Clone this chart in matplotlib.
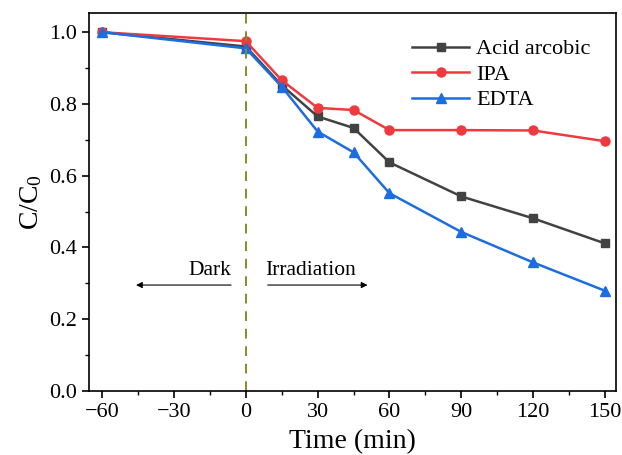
import matplotlib
matplotlib.use("Agg")
import matplotlib.pyplot as plt
from matplotlib.ticker import MultipleLocator

plt.rcParams['font.family'] = ['Liberation Serif', 'DejaVu Serif']
plt.rcParams['mathtext.fontset'] = 'custom'
plt.rcParams['mathtext.rm'] = 'Liberation Serif'
plt.rcParams['mathtext.it'] = 'Liberation Serif:italic'

# data
time = [-60, 0, 15, 30, 45, 60, 90, 120, 150]
acid = [1.0, 0.960, 0.852, 0.765, 0.733, 0.637, 0.542, 0.481, 0.411]
ipa = [1.0, 0.975, 0.866, 0.789, 0.783, 0.727, 0.727, 0.726, 0.696]
edta = [1.0, 0.955, 0.848, 0.723, 0.665, 0.551, 0.443, 0.358, 0.279]

fig = plt.figure(figsize=(6.22, 4.55), dpi=100)
ax = fig.add_axes([0.143, 0.141, 0.847, 0.830])

ax.plot(time, acid, color='#424242', marker='s', ms=6, lw=1.8, label='Acid arcobic')
ax.plot(time, ipa, color='#ee3a3f', marker='o', ms=6.5, lw=1.8, label='IPA')
ax.plot(time, edta, color='#1c6de0', marker='^', ms=7, lw=1.8, label='EDTA')

ax.axvline(0, color='#8a8a2a', ls=(0, (5, 4)), lw=1.4)

# dark / irradiation arrows
ax.annotate('', xy=(-47, 0.295), xytext=(-5, 0.295),
            arrowprops=dict(arrowstyle='-|>', color='black', lw=0.8, mutation_scale=9))
ax.annotate('', xy=(52, 0.295), xytext=(8, 0.295),
            arrowprops=dict(arrowstyle='-|>', color='black', lw=0.8, mutation_scale=9))
ax.text(-6, 0.31, 'Dark', ha='right', va='bottom', fontsize=15.5)
ax.text(8, 0.31, 'Irradiation', ha='left', va='bottom', fontsize=15.5)

ax.set_xlim(-65.5, 154.5)
ax.set_ylim(0, 1.053)
ax.xaxis.set_major_locator(MultipleLocator(30))
ax.xaxis.set_minor_locator(MultipleLocator(15))
ax.yaxis.set_major_locator(MultipleLocator(0.2))
ax.yaxis.set_minor_locator(MultipleLocator(0.1))
ax.yaxis.set_major_formatter(matplotlib.ticker.FormatStrFormatter('%.1f'))
ax.tick_params(which='major', direction='out', length=5, width=1.2, labelsize=16)
ax.tick_params(which='minor', direction='out', length=3, width=1.0)
for s in ax.spines.values():
    s.set_linewidth(1.2)

ax.set_xlabel('Time (min)', fontsize=20, labelpad=5)
ax.set_ylabel('C/C$_0$', fontsize=20, labelpad=4)

ax.legend(loc='upper right', bbox_to_anchor=(0.99, 0.985), frameon=False,
          fontsize=16, handlelength=2.6, handletextpad=0.3, labelspacing=0.22)

fig.savefig('out.png', dpi=100)
